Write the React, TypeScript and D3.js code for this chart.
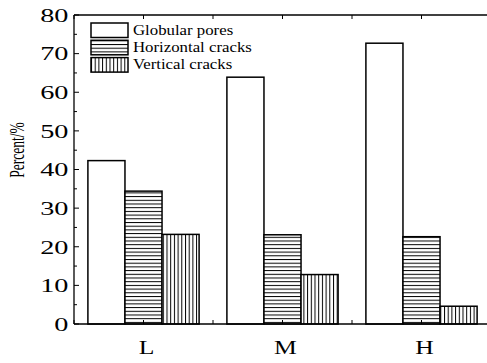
import React from 'react';
import * as d3 from 'd3';

const categories = ['L', 'M', 'H'];
const seriesNames = ['Globular pores', 'Horizontal cracks', 'Vertical cracks'];
const globular = [42.3, 63.9, 72.7];
const horizontal = [34.4, 23.1, 22.6];
const vertical = [23.2, 12.8, 4.6];
const yTicks = [0, 10, 20, 30, 40, 50, 60, 70, 80];

const width = 487;
const height = 363;
const margin = { top: 15, right: -4, bottom: 39, left: 74 };
const font = '"Liberation Serif", "Times New Roman", serif';
// the original picture is stretched sideways, so its text is too
const stretch = 1.35;

const App = () => {
  const x0 = margin.left;
  const x1 = width - margin.right;
  const yBottom = height - margin.bottom;

  const xScale = d3.scaleBand().domain(categories).range([x0, x1]).paddingInner(0.2).paddingOuter(0.1);
  const xSub = d3.scaleBand().domain(seriesNames).range([0, xScale.bandwidth()]);
  const yScale = d3.scaleLinear().domain([0, 80]).range([yBottom, margin.top]);

  const values = [globular, horizontal, vertical];
  const fills = ['#fff', 'url(#hatchH)', 'url(#hatchV)'];
  const step = xScale.step();
  const centers = categories.map((c) => xScale(c)! + xScale.bandwidth() / 2);
  const xTicks: number[] = [centers[0] - step / 2];
  centers.forEach((c, i) => {
    xTicks.push(c);
    if (i < centers.length - 1) xTicks.push(c + step / 2);
  });
  const minor = d3.range(5, 80, 10);

  return (
    <svg width={width} height={height} style={{ position: 'absolute', left: 0, top: 0 }}>
      <defs>
        <pattern id="hatchH" patternUnits="userSpaceOnUse" width={8} height={3.7}>
          <rect width={8} height={3.7} fill="#fff" />
          <line x1={0} x2={8} y1={0.5} y2={0.5} stroke="#000" strokeWidth={1} />
        </pattern>
        <pattern id="hatchV" patternUnits="userSpaceOnUse" width={3.7} height={8}>
          <rect width={3.7} height={8} fill="#fff" />
          <line x1={0.5} x2={0.5} y1={0} y2={8} stroke="#000" strokeWidth={1} />
        </pattern>
      </defs>
      <rect width={width} height={height} fill="#fff" />

      {/* bars */}
      {categories.map((c, ci) =>
        seriesNames.map((s, si) => {
          const v = values[si][ci];
          return (
            <rect
              key={c + s}
              x={xScale(c)! + xSub(s)!}
              y={yScale(v)}
              width={xSub.bandwidth()}
              height={yBottom - yScale(v)}
              fill={fills[si]}
              stroke="#000"
              strokeWidth={1.5}
            />
          );
        })
      )}

      {/* frame */}
      <line x1={x0} x2={x0} y1={margin.top} y2={yBottom} stroke="#000" strokeWidth={1.3} />
      <line x1={x0} x2={width} y1={yBottom} y2={yBottom} stroke="#000" strokeWidth={1.5} />
      <line x1={x0} x2={width} y1={margin.top} y2={margin.top} stroke="#000" strokeWidth={1.3} />

      {/* y ticks */}
      {yTicks.map((t) => (
        <g key={t}>
          <line x1={x0} x2={x0 + 5} y1={yScale(t)} y2={yScale(t)} stroke="#000" strokeWidth={1} />
          <text
            transform={`translate(${x0 - 5.5}, ${yScale(t)}) scale(1.45, 1)`}
            dy="0.35em"
            textAnchor="end"
            fontFamily={font}
            fontSize={19.5}
          >
            {t}
          </text>
        </g>
      ))}
      {minor.map((t) => (
        <line key={t} x1={x0} x2={x0 + 3} y1={yScale(t)} y2={yScale(t)} stroke="#000" strokeWidth={1} />
      ))}

      {/* x ticks */}
      {xTicks.map((t, i) => (
        <g key={i}>
          <line x1={t} x2={t} y1={margin.top} y2={margin.top + 4} stroke="#000" strokeWidth={1} />
          <line x1={t} x2={t} y1={yBottom} y2={yBottom - 4} stroke="#000" strokeWidth={1} />
        </g>
      ))}
      {categories.map((c, i) => (
        <text
          key={c}
          transform={`translate(${centers[i] + 3}, ${yBottom + 30}) scale(${stretch}, 1)`}
          textAnchor="middle"
          fontFamily={font}
          fontSize={19}
        >
          {c}
        </text>
      ))}

      <text
        transform={`translate(24, 150) rotate(-90) scale(1, 1.6)`}
        textAnchor="middle"
        fontFamily={font}
        fontSize={13.5}
      >
        Percent/%
      </text>

      {/* legend */}
      {seriesNames.map((s, i) => (
        <g key={s} transform={`translate(91, ${23 + i * 17.3})`}>
          <rect width={37} height={14.5} fill={fills[i]} stroke="#000" strokeWidth={1.5} />
          <text
            transform={`translate(42, 11.5) scale(1.12, 1)`}
            fontFamily={font}
            fontSize={15}
          >
            {s}
          </text>
        </g>
      ))}
    </svg>
  );
};

export default App;
